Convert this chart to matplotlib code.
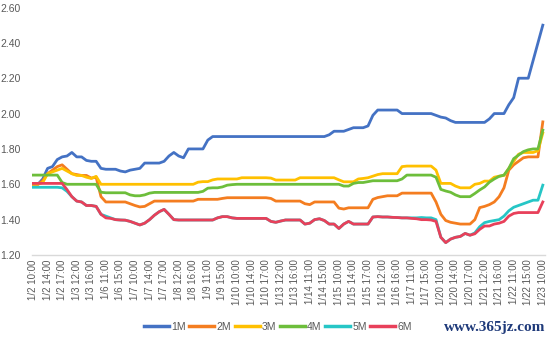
import matplotlib
matplotlib.use("Agg")
import matplotlib.pyplot as plt

plt.rcParams['font.family'] = ['Liberation Sans', 'DejaVu Sans']

# trading days and intraday hours
days = ["1/2", "1/3", "1/6", "1/7", "1/8", "1/9", "1/10", "1/13", "1/14",
        "1/15", "1/16", "1/17", "1/20", "1/21", "1/22", "1/23"]
hours = ["10:00", "11:00", "12:00", "14:00", "15:00", "16:00", "17:00"]
categories = [f"{d} {h}" for d in days[:-1] for h in hours] + ["1/23 10:00"]

m1 = [1.60, 1.60, 1.63, 1.69, 1.70, 1.74, 1.755, 1.76, 1.78, 1.755,
      1.755, 1.735, 1.73, 1.73, 1.69, 1.685, 1.685, 1.685, 1.675, 1.67,
      1.68, 1.685, 1.69, 1.72, 1.72, 1.72, 1.72, 1.73, 1.76, 1.78,
      1.76, 1.75, 1.80, 1.80, 1.80, 1.80, 1.85, 1.87, 1.87, 1.87,
      1.87, 1.87, 1.87, 1.87, 1.87, 1.87, 1.87, 1.87, 1.87, 1.87,
      1.87, 1.87, 1.87, 1.87, 1.87, 1.87, 1.87, 1.87, 1.87, 1.87,
      1.87, 1.88, 1.90, 1.90, 1.90, 1.91, 1.92, 1.92, 1.92, 1.93,
      1.99, 2.02, 2.02, 2.02, 2.02, 2.02, 2.00, 2.00, 2.00, 2.00,
      2.00, 2.00, 2.00, 1.99, 1.98, 1.975, 1.96, 1.95, 1.95, 1.95,
      1.95, 1.95, 1.95, 1.95, 1.97, 2.00, 2.00, 2.00, 2.05, 2.09,
      2.20, 2.20, 2.20, 2.30, 2.40, 2.50]

m2 = [1.60, 1.60, 1.62, 1.66, 1.68, 1.70, 1.71, 1.685, 1.66, 1.655,
      1.65, 1.65, 1.635, 1.64, 1.53, 1.50, 1.50, 1.50, 1.50, 1.50,
      1.49, 1.48, 1.472, 1.475, 1.49, 1.505, 1.505, 1.505, 1.505, 1.505,
      1.505, 1.505, 1.505, 1.505, 1.515, 1.515, 1.515, 1.515, 1.515, 1.52,
      1.524, 1.524, 1.524, 1.524, 1.524, 1.524, 1.524, 1.524, 1.524, 1.52,
      1.505, 1.505, 1.505, 1.505, 1.505, 1.505, 1.49, 1.485, 1.50, 1.50,
      1.50, 1.50, 1.50, 1.465, 1.46, 1.467, 1.467, 1.467, 1.467, 1.467,
      1.515, 1.525, 1.53, 1.535, 1.535, 1.535, 1.55, 1.55, 1.55, 1.55,
      1.55, 1.55, 1.55, 1.50, 1.43, 1.395, 1.385, 1.38, 1.375, 1.375,
      1.375, 1.40, 1.468, 1.475, 1.485, 1.50, 1.53, 1.58, 1.68, 1.71,
      1.73, 1.75, 1.755, 1.755, 1.755, 1.953]

m3 = [1.60, 1.60, 1.61, 1.66, 1.67, 1.68, 1.69, 1.675, 1.66, 1.65,
      1.65, 1.64, 1.633, 1.645, 1.60, 1.60, 1.60, 1.60, 1.60, 1.60,
      1.60, 1.60, 1.60, 1.60, 1.60, 1.60, 1.60, 1.60, 1.60, 1.60,
      1.60, 1.60, 1.60, 1.60, 1.612, 1.615, 1.615, 1.625, 1.63, 1.63,
      1.63, 1.63, 1.63, 1.637, 1.637, 1.637, 1.637, 1.637, 1.637, 1.635,
      1.624, 1.624, 1.624, 1.624, 1.624, 1.637, 1.637, 1.637, 1.637, 1.637,
      1.637, 1.637, 1.637, 1.625, 1.614, 1.614, 1.614, 1.63, 1.633, 1.637,
      1.646, 1.655, 1.66, 1.66, 1.66, 1.66, 1.70, 1.703, 1.703, 1.703,
      1.703, 1.703, 1.703, 1.68, 1.605, 1.605, 1.605, 1.59, 1.58, 1.58,
      1.58, 1.60, 1.605, 1.618, 1.618, 1.64, 1.646, 1.65, 1.69, 1.73,
      1.77, 1.78, 1.78, 1.78, 1.79, 1.89]

m4 = [1.652, 1.652, 1.652, 1.652, 1.652, 1.652, 1.61, 1.60, 1.60, 1.60,
      1.60, 1.60, 1.60, 1.60, 1.555, 1.552, 1.552, 1.552, 1.552, 1.552,
      1.54, 1.535, 1.535, 1.54, 1.55, 1.554, 1.554, 1.554, 1.554, 1.554,
      1.554, 1.554, 1.554, 1.554, 1.554, 1.56, 1.578, 1.58, 1.58, 1.585,
      1.595, 1.598, 1.60, 1.60, 1.60, 1.60, 1.60, 1.60, 1.60, 1.60,
      1.60, 1.60, 1.60, 1.60, 1.60, 1.60, 1.60, 1.60, 1.60, 1.60,
      1.60, 1.60, 1.60, 1.60, 1.59, 1.59, 1.605, 1.61, 1.61, 1.615,
      1.62, 1.62, 1.62, 1.62, 1.62, 1.62, 1.63, 1.652, 1.652, 1.652,
      1.652, 1.652, 1.652, 1.64, 1.571, 1.562, 1.555, 1.54, 1.53, 1.53,
      1.53, 1.548, 1.568, 1.585, 1.612, 1.63, 1.645, 1.652, 1.69, 1.745,
      1.765, 1.785, 1.795, 1.80, 1.80, 1.906]

m5 = [1.583, 1.583, 1.583, 1.583, 1.583, 1.583, 1.58, 1.56, 1.53, 1.505,
      1.50, 1.48, 1.48, 1.475, 1.43, 1.42, 1.41, 1.40, 1.398, 1.397,
      1.39, 1.38, 1.37, 1.38, 1.40, 1.425, 1.445, 1.458, 1.43, 1.40,
      1.398, 1.398, 1.398, 1.398, 1.398, 1.398, 1.398, 1.398, 1.41, 1.417,
      1.417, 1.41, 1.407, 1.407, 1.407, 1.407, 1.407, 1.407, 1.407, 1.39,
      1.385, 1.392, 1.398, 1.398, 1.398, 1.398, 1.375, 1.38, 1.40, 1.405,
      1.395, 1.375, 1.375, 1.35, 1.375, 1.39, 1.375, 1.375, 1.375, 1.375,
      1.415, 1.417, 1.415, 1.415, 1.413, 1.412, 1.41, 1.41, 1.41, 1.41,
      1.412, 1.41, 1.41, 1.40, 1.30, 1.27, 1.29, 1.30, 1.305, 1.322,
      1.312, 1.325, 1.36, 1.383, 1.39, 1.395, 1.40, 1.42, 1.45, 1.47,
      1.48, 1.49, 1.50, 1.51, 1.51, 1.595]

m6 = [1.605, 1.605, 1.605, 1.605, 1.605, 1.605, 1.605, 1.57, 1.53, 1.505,
      1.50, 1.48, 1.48, 1.475, 1.43, 1.41, 1.407, 1.40, 1.398, 1.397,
      1.39, 1.38, 1.37, 1.38, 1.40, 1.425, 1.445, 1.458, 1.43, 1.40,
      1.398, 1.398, 1.398, 1.398, 1.398, 1.398, 1.398, 1.398, 1.41, 1.417,
      1.417, 1.41, 1.407, 1.407, 1.407, 1.407, 1.407, 1.407, 1.407, 1.39,
      1.385, 1.392, 1.398, 1.398, 1.398, 1.398, 1.375, 1.38, 1.40, 1.405,
      1.395, 1.375, 1.375, 1.35, 1.375, 1.39, 1.375, 1.375, 1.375, 1.375,
      1.415, 1.417, 1.415, 1.415, 1.413, 1.412, 1.41, 1.41, 1.407, 1.405,
      1.40, 1.40, 1.398, 1.39, 1.30, 1.27, 1.29, 1.30, 1.305, 1.322,
      1.312, 1.32, 1.345, 1.364, 1.364, 1.375, 1.38, 1.39, 1.42, 1.435,
      1.44, 1.44, 1.44, 1.44, 1.44, 1.50]

series_names = ["1M", "2M", "3M", "4M", "5M", "6M"]
series_values = [m1, m2, m3, m4, m5, m6]
colors = ["#4472C4", "#F47D20", "#FFC000", "#6DBE3B", "#26C6C6", "#E8405A"]
y_ticks = [1.20, 1.40, 1.60, 1.80, 2.00, 2.20, 2.40, 2.60]

fig = plt.figure(figsize=(5.54, 3.42), dpi=100)
ax = fig.add_axes([31.8 / 554, 1 - 255 / 342, (545 - 31.8) / 554, (255 - 7.5) / 342])

x = list(range(len(categories)))
for name, vals, c in zip(series_names, series_values, colors):
    ax.plot(x, vals, color=c, lw=2.0, label=name, solid_joinstyle='round')

ax.set_ylim(1.2, 2.6)
ax.set_xlim(-0.25, len(categories) - 1 + 0.45)
ax.set_yticks(y_ticks)
ax.set_yticklabels([f"{v:.2f}" for v in y_ticks], fontsize=7.5, color="#595959")
tick_idx = x[::3]
ax.set_xticks(tick_idx)
ax.set_xticklabels([categories[i] for i in tick_idx], rotation=90, fontsize=7,
                   color="#595959")
ax.tick_params(axis='both', length=0, pad=3)
ax.tick_params(axis='y', pad=8)
for s in ["left", "right", "top"]:
    ax.spines[s].set_visible(False)
ax.spines["bottom"].set_color("#D9D9D9")
ax.spines["bottom"].set_linewidth(1.0)

leg = fig.legend(loc="center", bbox_to_anchor=(278 / 554, 1 - 327 / 342), ncol=6,
                 frameon=False, fontsize=7.5, handlelength=2.4, handletextpad=0.2,
                 columnspacing=0.35, borderpad=0.2)
for t in leg.get_texts():
    t.set_color("#595959")
for h in leg.get_lines():
    h.set_linewidth(2.5)

fig.text(545 / 554, 1 - 328 / 342, "www.365jz.com", ha="right", va="center",
         fontsize=11, fontweight="bold", color="#1F3A7A",
         family=["Liberation Serif", "DejaVu Serif"])

fig.savefig("out.png", dpi=100)
